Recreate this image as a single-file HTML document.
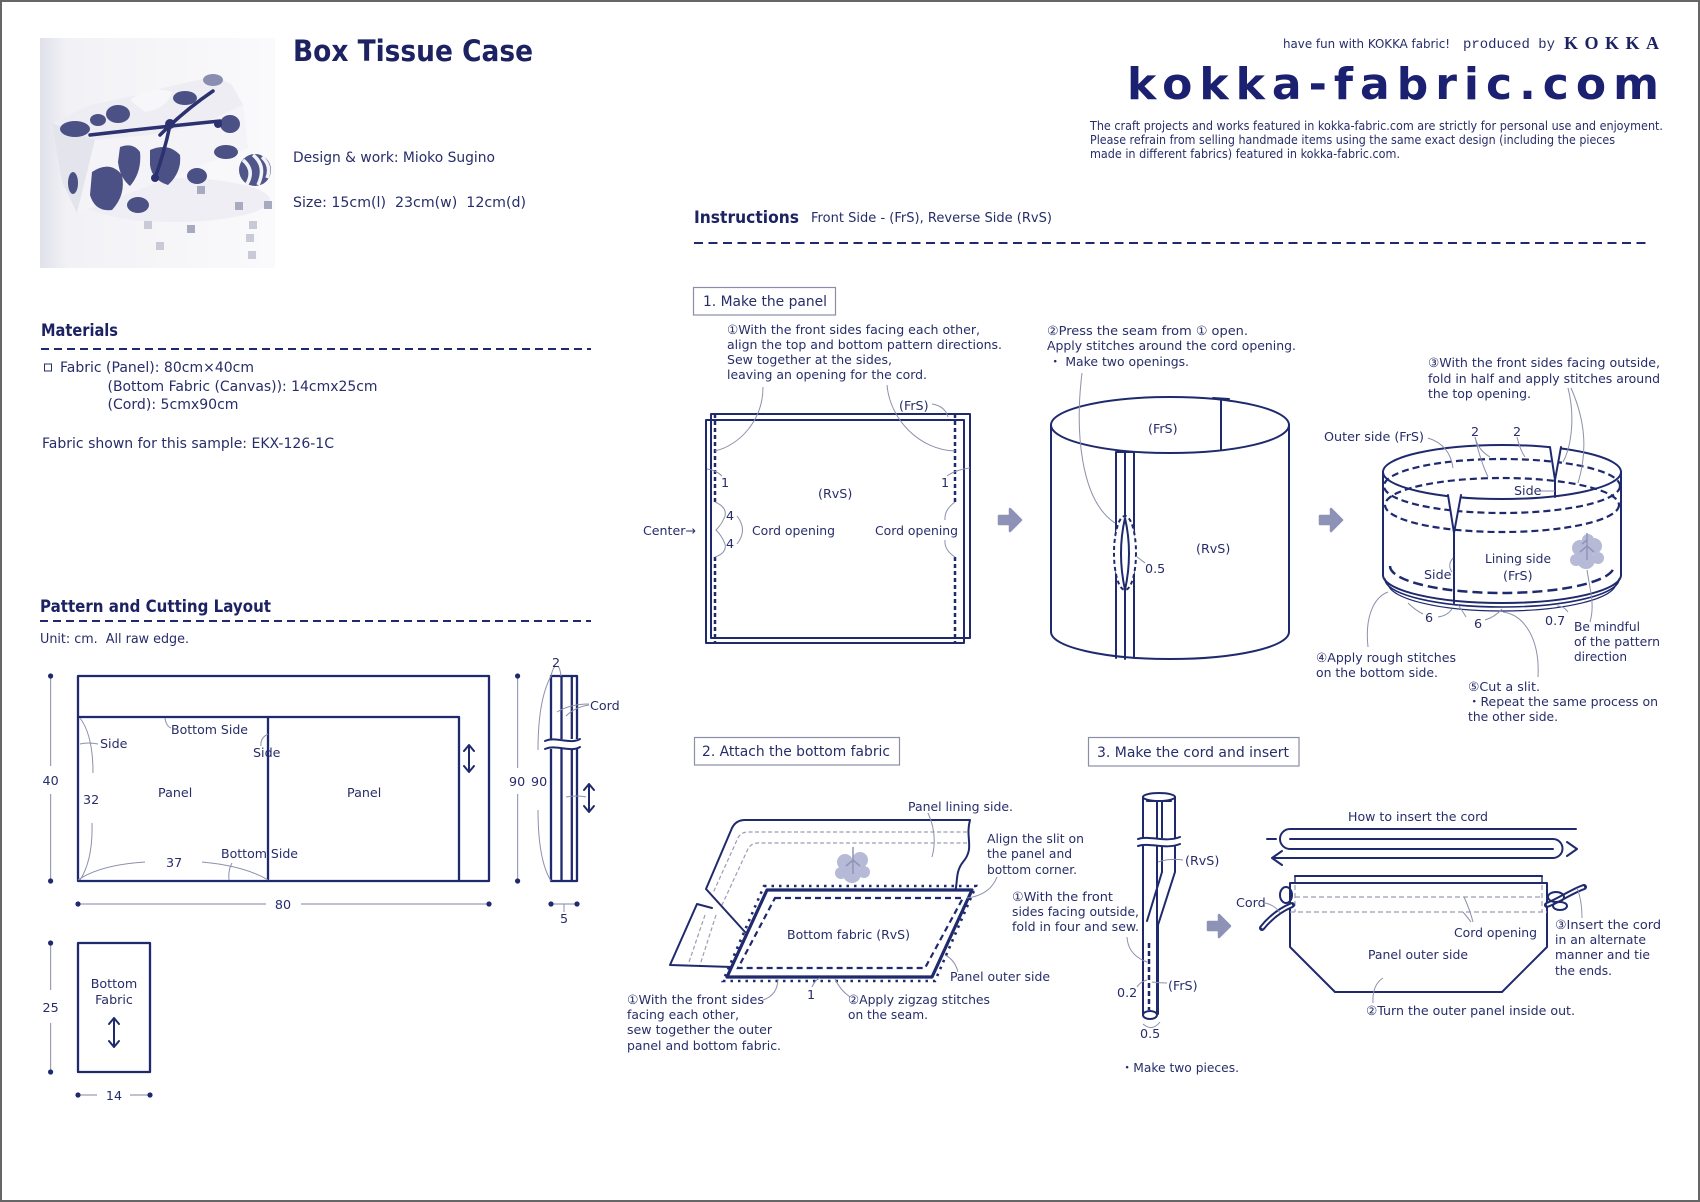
<!DOCTYPE html>
<html><head><meta charset="utf-8"><title>Box Tissue Case</title>
<style>
html,body{margin:0;padding:0;background:#fff;width:1700px;height:1202px;overflow:hidden}
svg{display:block}
text{font-family:"DejaVu Sans","Noto Sans CJK JP",sans-serif;fill:#272d69;font-size:12.7px}
.b{font-weight:bold;fill:#1c2262}
.ln{stroke:#1f2a6e;stroke-width:2;fill:none;stroke-linejoin:round;stroke-linecap:round}
.gl{stroke:#8c90ab;stroke-width:1;fill:none}
.dm{stroke:#9b9eb6;stroke-width:1.2;fill:none}
.ga{fill:#8e92b6;stroke:#8e92b6;stroke-width:2.5;stroke-linejoin:round}
.dot{fill:#1f2a6e}
.bx{fill:none;stroke:#8b8ea6;stroke-width:1.2}
</style></head><body>
<svg width="1700" height="1202" viewBox="0 0 1700 1202" xmlns="http://www.w3.org/2000/svg">
<defs>
<linearGradient id="pg" x1="0" y1="0" x2="1" y2="0">
<stop offset="0" stop-color="#e0e1ea"/><stop offset="0.12" stop-color="#f2f2f6"/><stop offset="1" stop-color="#fafafc"/>
</linearGradient>
<clipPath id="pc"><rect x="40" y="38" width="235" height="230"/></clipPath>
</defs>
<rect x="1" y="1" width="1698" height="1200" fill="#fff" stroke="#666" stroke-width="2"/>

<!-- PHOTO -->
<g clip-path="url(#pc)">
<rect x="40" y="38" width="235" height="230" fill="url(#pg)"/>
<ellipse cx="175" cy="200" rx="95" ry="22" fill="#eeeef4"/>
<!-- left face -->
<path d="M52 123 L95 140 L77 213 L62 182 Z" fill="#e3e4ec"/>
<!-- top face -->
<path d="M52 123 L90 105 L137 95 L175 85 L217 76 L232 85 L243 105 L200 125 L150 135 L95 140 Z" fill="#ededf3"/>
<path d="M130 100 Q150 85 172 92 Q168 108 145 112 Z" fill="#f7f7fa"/>
<!-- front face -->
<path d="M95 140 L150 135 L200 125 L243 105 L248 148 L77 213 Z" fill="#f4f4f8"/>
<g fill="#4b5085">
<path d="M92 172 Q110 160 122 175 Q126 195 112 210 Q95 212 90 195 Z"/>
<path d="M120 147 Q133 142 140 152 Q142 172 130 186 Q120 178 118 162 Z"/>
<path d="M150 150 Q168 142 180 155 Q182 172 168 185 Q152 180 150 165 Z"/>
<ellipse cx="138" cy="205" rx="11" ry="8"/>
<ellipse cx="197" cy="176" rx="10" ry="8"/>
<ellipse cx="226" cy="152" rx="12" ry="7"/>
<ellipse cx="73" cy="183" rx="5" ry="11"/>
<ellipse cx="75" cy="129" rx="15" ry="8"/>
<ellipse cx="118" cy="114" rx="12" ry="9"/>
<ellipse cx="185" cy="98" rx="12" ry="7"/>
<ellipse cx="230" cy="124" rx="10" ry="9"/>
<ellipse cx="98" cy="120" rx="8" ry="6"/>
</g>
<g stroke="#2c3170" stroke-width="3.5" fill="none" stroke-linecap="round">
<path d="M90 135 Q150 128 220 121"/>
<path d="M160 135 Q185 110 213 91"/>
<path d="M170 125 Q165 150 155 178"/>
</g>
<circle cx="170" cy="124" r="5" fill="#2c3170"/>
<circle cx="155" cy="178" r="4" fill="#2c3170"/>
<circle cx="218" cy="124" r="4" fill="#2c3170"/>
<ellipse cx="213" cy="80" rx="10" ry="6" fill="#8a8db0"/>
<circle cx="255" cy="170" r="16" fill="#50558a"/>
<path d="M243 160 Q255 170 247 184 M253 155 Q267 166 258 185 M262 157 Q272 166 267 178" stroke="#f2f2f7" stroke-width="3.5" fill="none"/>
<g fill="#a8aabf">
<rect x="197" y="186" width="8" height="8"/><rect x="235" y="202" width="8" height="8"/>
<rect x="264" y="201" width="8" height="8"/><rect x="187" y="225" width="8" height="8"/>
</g>
<g fill="#c9cad8">
<rect x="144" y="221" width="8" height="8"/><rect x="156" y="242" width="8" height="8"/>
<rect x="249" y="221" width="8" height="8"/><rect x="246" y="234" width="8" height="8"/>
<rect x="248" y="251" width="8" height="8"/>
</g>
</g>

<!-- HEADER TEXT -->
<text x="293" y="61" class="b" style="font-size:29px" textLength="240" lengthAdjust="spacingAndGlyphs">Box Tissue Case</text>
<text x="293" y="162" style="font-size:14px" textLength="202" lengthAdjust="spacingAndGlyphs">Design &amp; work: Mioko Sugino</text>
<text x="293" y="207" style="font-size:14px" textLength="233" lengthAdjust="spacingAndGlyphs">Size: 15cm(l)&#160; 23cm(w)&#160; 12cm(d)</text>

<text x="1283" y="48" style="font-size:12px" textLength="167" lengthAdjust="spacingAndGlyphs">have fun with KOKKA fabric!</text>
<text x="1463" y="48" style="font-family:'Liberation Mono',monospace;font-size:14px" textLength="92" lengthAdjust="spacingAndGlyphs">produced by</text>
<text x="1564" y="49" style="font-family:'Liberation Serif',serif;font-weight:bold;font-size:18px;fill:#1c2262" textLength="95" lengthAdjust="spacing">KOKKA</text>
<text x="1127" y="99" style="font-weight:bold;font-size:44px;fill:#1b2070" textLength="532" lengthAdjust="spacing">kokka-fabric.com</text>
<text x="1090" y="130" style="font-size:12px" textLength="573" lengthAdjust="spacingAndGlyphs">The craft projects and works featured in kokka-fabric.com are strictly for personal use and enjoyment.</text>
<text x="1090" y="144" style="font-size:12px" textLength="525" lengthAdjust="spacingAndGlyphs">Please refrain from selling handmade items using the same exact design (including the pieces</text>
<text x="1090" y="158" style="font-size:12px" textLength="310" lengthAdjust="spacingAndGlyphs">made in different fabrics) featured in kokka-fabric.com.</text>

<text x="694" y="223" class="b" style="font-size:17px" textLength="105" lengthAdjust="spacingAndGlyphs">Instructions</text>
<text x="811" y="222" style="font-size:13px" textLength="241" lengthAdjust="spacingAndGlyphs">Front Side - (FrS), Reverse Side (RvS)</text>
<path d="M694 243 H1646" stroke="#1f2a6e" stroke-width="2" stroke-dasharray="9 5.5"/>

<!-- MATERIALS -->
<text x="41" y="336" class="b" style="font-size:16.5px" textLength="77" lengthAdjust="spacingAndGlyphs">Materials</text>
<path d="M41 349 H591" stroke="#1f2a6e" stroke-width="2" stroke-dasharray="8 5"/>
<rect x="44.5" y="364" width="7" height="7" fill="none" stroke="#272d69" stroke-width="1"/>
<text x="60" y="372" style="font-size:14px" textLength="194" lengthAdjust="spacingAndGlyphs">Fabric (Panel): 80cm×40cm</text>
<text x="107.5" y="391" style="font-size:14px" textLength="270" lengthAdjust="spacingAndGlyphs">(Bottom Fabric (Canvas)): 14cmx25cm</text>
<text x="107.5" y="409" style="font-size:14px" textLength="131" lengthAdjust="spacingAndGlyphs">(Cord): 5cmx90cm</text>
<text x="42" y="448" style="font-size:14px" textLength="292" lengthAdjust="spacingAndGlyphs">Fabric shown for this sample: EKX-126-1C</text>

<text x="40" y="612" class="b" style="font-size:16.5px" textLength="231" lengthAdjust="spacingAndGlyphs">Pattern and Cutting Layout</text>
<path d="M40 621 H591" stroke="#1f2a6e" stroke-width="2" stroke-dasharray="8 5"/>
<text x="40" y="643" style="font-size:13px" textLength="149" lengthAdjust="spacingAndGlyphs">Unit: cm.&#160; All raw edge.</text>

<!-- PATTERN LAYOUT -->
<g class="ln" style="stroke-width:2.3">
<rect x="78" y="676" width="411" height="205"/>
<path d="M78 717 H459 V881 M268 717 V881"/>
<rect x="78" y="943" width="72" height="129"/>
<rect x="551" y="676" width="26" height="205"/>
<path d="M561.5 676 V881 M571.8 676 V881"/>
</g>
<rect x="544" y="739" width="40" height="10" fill="#fff"/>
<path class="ln" d="M545 741 C556 736 570 745 580 739 M545 749 C556 744 570 753 580 747"/>
<g class="ln">
<path d="M469 745 V772 M464 751 L469 745 L474 751 M464 766 L469 772 L474 766"/>
<path d="M589 784 V812 M584 790 L589 784 L594 790 M584 806 L589 812 L594 806"/>
<path d="M114 1018 V1047 M109 1024 L114 1018 L119 1024 M109 1041 L114 1047 L119 1041"/>
</g>
<path class="dm" d="M50.6 676 V766 M50.6 794 V881 M78 904 H266 M301 904 H489 M517.6 676 V768 M517.6 794 V881 M551 904 H577 M50.6 943 V990 M50.6 1023 V1072 M78 1095 H97 M130 1095 H150"/>
<g class="dot">
<circle cx="50.6" cy="676" r="2.6"/><circle cx="50.6" cy="881" r="2.6"/>
<circle cx="78" cy="904" r="2.6"/><circle cx="489" cy="904" r="2.6"/>
<circle cx="517.6" cy="676" r="2.6"/><circle cx="517.6" cy="881" r="2.6"/>
<circle cx="551" cy="904" r="2.6"/><circle cx="577" cy="904" r="2.6"/>
<circle cx="50.6" cy="943" r="2.6"/><circle cx="50.6" cy="1072" r="2.6"/>
<circle cx="78" cy="1095" r="2.6"/><circle cx="150" cy="1095" r="2.6"/>
</g>
<path class="gl" d="M80 744 Q88 742 98 744 M165 718 Q166 726 171 728 M268 734 Q260 738 261 746 M80 718 Q93 735 93 773 M92 823 Q93 860 80 880 M78 880 Q100 865 145 862 M202 862 Q245 866 268 880 M229 880 Q228 870 232 863 M551 676 Q538 700 538 750 M538 810 Q538 860 551 881 M551 676 Q553 667 556 666 M561 676 Q560 668 558 666 M557 712 Q570 704 589 704 M566 716 Q575 707 589 705 M566 797 Q578 795 586 797 M564 904 V912"/>
<text x="100" y="748">Side</text>
<text x="171" y="734" textLength="77" lengthAdjust="spacingAndGlyphs">Bottom Side</text>
<text x="253" y="757">Side</text>
<text x="158" y="797">Panel</text>
<text x="347" y="797">Panel</text>
<text x="83" y="804">32</text>
<text x="166" y="867">37</text>
<text x="221" y="858" textLength="77" lengthAdjust="spacingAndGlyphs">Bottom Side</text>
<text x="50.6" y="785" text-anchor="middle">40</text>
<text x="283" y="909" text-anchor="middle">80</text>
<text x="509" y="786">90</text>
<text x="531" y="786">90</text>
<text x="556" y="667" text-anchor="middle">2</text>
<text x="590" y="710">Cord</text>
<text x="564" y="923" text-anchor="middle">5</text>
<text x="50.6" y="1012" text-anchor="middle">25</text>
<text x="114" y="988" text-anchor="middle">Bottom</text>
<text x="114" y="1004" text-anchor="middle">Fabric</text>
<text x="114" y="1100" text-anchor="middle">14</text>

<!-- STEP 1 -->
<rect class="bx" x="693.5" y="287.5" width="142" height="27.5"/>
<text x="703" y="306" style="font-size:14px" textLength="124" lengthAdjust="spacingAndGlyphs">1. Make the panel</text>
<text x="727" y="334" textLength="253" lengthAdjust="spacingAndGlyphs">①With the front sides facing each other,</text>
<text x="727" y="349" textLength="275" lengthAdjust="spacingAndGlyphs">align the top and bottom pattern directions.</text>
<text x="727" y="364" textLength="165" lengthAdjust="spacingAndGlyphs">Sew together at the sides,</text>
<text x="727" y="379" textLength="200" lengthAdjust="spacingAndGlyphs">leaving an opening for the cord.</text>

<rect class="ln" x="711" y="414" width="259" height="224" fill="#fff"/>
<rect class="ln" x="706" y="420" width="258" height="223" fill="#fff"/>
<path d="M715 414 V502 M715 557 V643 M955 414 V502 M955 557 V643" stroke="#1f2a6e" stroke-width="2.5" stroke-dasharray="4 3" fill="none"/>
<path class="gl" d="M763 387 C763 420 740 445 715 451 M887 385 C890 420 920 450 955 451 M932 404 Q945 406 948 417 M707 469 Q716 470 722 476 M970 468 Q955 470 947 476 M715 502 Q727 507 725 516 Q722 524 716 530 Q722 536 725 544 Q727 553 715 557 M737 516 Q748 530 737 544 M955 502 Q944 510 945 520 M945 540 Q944 550 955 557"/>
<text x="899" y="410">(FrS)</text>
<text x="721" y="487">1</text>
<text x="941" y="487">1</text>
<text x="818" y="498">(RvS)</text>
<text x="726" y="520">4</text>
<text x="726" y="548">4</text>
<text x="643" y="535" textLength="53" lengthAdjust="spacingAndGlyphs">Center→</text>
<text x="752" y="535" textLength="83" lengthAdjust="spacingAndGlyphs">Cord opening</text>
<text x="875" y="535" textLength="83" lengthAdjust="spacingAndGlyphs">Cord opening</text>

<path class="ga" d="M999 516 H1010 V509 L1021 520 L1010 531 V524 H999 Z"/>

<text x="1047" y="335" textLength="201" lengthAdjust="spacingAndGlyphs">②Press the seam from ① open.</text>
<text x="1047" y="350" textLength="249" lengthAdjust="spacingAndGlyphs">Apply stitches around the cord opening.</text>
<text x="1049" y="366" textLength="140" lengthAdjust="spacingAndGlyphs">・ Make two openings.</text>

<ellipse class="ln" cx="1170" cy="425" rx="119" ry="28" fill="#fff"/>
<path class="ln" d="M1051 425 V632 A119 27 0 0 0 1289 632 V425"/>
<path class="ln" d="M1221 400 V450 M1213 398 L1229 399"/>
<path class="ln" d="M1116 452 V658 M1134 452 V658 M1125 452 V659 M1116 452 H1134"/>
<ellipse cx="1125" cy="553" rx="11" ry="37" fill="#fff" stroke="#1f2a6e" stroke-width="2" stroke-dasharray="4 3"/>
<path class="ln" d="M1125 518 Q1133 553 1125 590 Q1117 553 1125 518 Z"/>
<path class="gl" d="M1082 373 C1075 430 1080 500 1115 523 M1136 556 L1145 563"/>
<text x="1148" y="433">(FrS)</text>
<text x="1196" y="553">(RvS)</text>
<text x="1145" y="573">0.5</text>

<path class="ga" d="M1320 516 H1331 V509 L1342 520 L1331 531 V524 H1320 Z"/>

<text x="1428" y="367" textLength="232" lengthAdjust="spacingAndGlyphs">③With the front sides facing outside,</text>
<text x="1428" y="383" textLength="232" lengthAdjust="spacingAndGlyphs">fold in half and apply stitches around</text>
<text x="1428" y="398" textLength="103" lengthAdjust="spacingAndGlyphs">the top opening.</text>

<ellipse class="ln" cx="1502" cy="472" rx="119" ry="27" fill="#fff"/>
<path class="ln" d="M1383 472 V575 M1621 472 V575"/>
<ellipse cx="1502" cy="486" rx="118" ry="27" fill="none" stroke="#1f2a6e" stroke-width="2.2" stroke-dasharray="7 4"/>
<ellipse cx="1502" cy="505" rx="117" ry="27" fill="none" stroke="#1f2a6e" stroke-width="2.2" stroke-dasharray="7 4"/>
<path class="ln" d="M1383 575 A119 28 0 0 0 1621 575"/>
<path class="ln" d="M1385 579 A117 28 0 0 0 1619 579" style="stroke-width:1.6"/>
<path d="M1388 583 A114 28 0 0 0 1616 583" stroke="#1f2a6e" stroke-width="1.2" fill="none"/>
<path d="M1390 566 A112 27 0 0 0 1614 566" stroke="#1f2a6e" stroke-width="2.5" fill="none" stroke-dasharray="10 5"/>
<path d="M1448 494 L1454 533 L1461 494 Z" fill="#fff"/>
<path class="ln" d="M1448 495 L1454 533 L1461 495 M1454 533 V603"/>
<path d="M1550 446 L1555 480 L1561 446 Z" fill="#fff"/>
<path class="ln" d="M1550 447 L1555 480 L1561 447 M1555 480 V497"/>
<g fill="#b7bad6">
<circle cx="1580" cy="548" r="8"/><circle cx="1594" cy="546" r="8"/><circle cx="1586" cy="560" r="9"/>
<circle cx="1576" cy="560" r="6"/><circle cx="1598" cy="558" r="6"/><circle cx="1588" cy="540" r="6"/>
</g>
<path d="M1587 533 V560 M1587 546 L1580 552 M1587 546 L1594 552 M1587 540 L1582 544" stroke="#9094b9" stroke-width="1.5" fill="none"/>
<path class="gl" d="M1428 438 Q1450 445 1453 468 M1475 437 Q1478 450 1490 457 M1475 437 Q1480 460 1488 477 M1517 437 Q1520 450 1525 457 M1571 388 C1585 420 1588 450 1578 483 M1568 388 C1575 415 1572 445 1563 462 M1453 558 Q1447 565 1452 572 M1540 491 H1555 M1438 617 Q1447 616 1452 609 M1423 614 Q1415 610 1408 603 M1466 617 Q1462 610 1458 605 M1485 620 Q1495 617 1502 609 M1568 612 Q1564 606 1557 606 M1587 570 C1590 590 1595 605 1590 622 M1368 647 C1365 620 1372 598 1388 592 M1538 677 C1540 640 1525 615 1503 612"/>
<text x="1324" y="441" textLength="100" lengthAdjust="spacingAndGlyphs">Outer side (FrS)</text>
<text x="1471" y="436">2</text>
<text x="1513" y="436">2</text>
<text x="1514" y="495">Side</text>
<text x="1485" y="563" textLength="66" lengthAdjust="spacingAndGlyphs">Lining side</text>
<text x="1503" y="580">(FrS)</text>
<text x="1424" y="579">Side</text>
<text x="1425" y="622">6</text>
<text x="1474" y="628">6</text>
<text x="1545" y="625">0.7</text>
<text x="1574" y="631" textLength="66" lengthAdjust="spacingAndGlyphs">Be mindful</text>
<text x="1574" y="646" textLength="86" lengthAdjust="spacingAndGlyphs">of the pattern</text>
<text x="1574" y="661" textLength="53" lengthAdjust="spacingAndGlyphs">direction</text>
<text x="1316" y="662" textLength="140" lengthAdjust="spacingAndGlyphs">④Apply rough stitches</text>
<text x="1316" y="677" textLength="122" lengthAdjust="spacingAndGlyphs">on the bottom side.</text>
<text x="1468" y="691" textLength="72" lengthAdjust="spacingAndGlyphs">⑤Cut a slit.</text>
<text x="1468" y="706" textLength="190" lengthAdjust="spacingAndGlyphs">・Repeat the same process on</text>
<text x="1468" y="721" textLength="90" lengthAdjust="spacingAndGlyphs">the other side.</text>

<!-- STEP 2 -->
<rect class="bx" x="694.5" y="737.5" width="205" height="27.5"/>
<text x="702" y="756" style="font-size:14px" textLength="188" lengthAdjust="spacingAndGlyphs">2. Attach the bottom fabric</text>

<path class="ln" d="M970 820 H745 Q736 820 732 828 L706 889 L745 932 M970 820 C965 838 975 848 963 862 C955 872 958 882 955 892 M697 904 L670 965 L732 967 L738 958 M697 904 L712 908"/>
<path d="M967 832 H748 Q740 832 737 840 L713 893 M705 915 L688 965 M967 843 H758 Q750 843 747 851 L722 905 M716 915 L700 965" stroke="#9a9db5" stroke-width="1.2" fill="none" stroke-dasharray="4 2.5"/>
<g fill="#b7bad6">
<circle cx="845" cy="862" r="8"/><circle cx="860" cy="860" r="8"/><circle cx="852" cy="874" r="9"/>
<circle cx="841" cy="873" r="6"/><circle cx="864" cy="872" r="6"/>
</g>
<path d="M853 847 V874 M853 860 L846 866 M853 860 L860 866" stroke="#9094b9" stroke-width="1.5" fill="none"/>
<path d="M767 890 L972 890 L932 977 L727 977 Z" fill="#fff" stroke="#1f2a6e" stroke-width="3.2" stroke-linejoin="round"/>
<path d="M764 886 L976 886 L935 981 L723 981 Z" fill="none" stroke="#1f2a6e" stroke-width="2.6" stroke-dasharray="2.5 5"/>
<path d="M775 898 L963 898 L925 968 L738 968 Z" fill="none" stroke="#1f2a6e" stroke-width="2.2" stroke-dasharray="6 4"/>
<path class="gl" d="M928 813 Q938 835 932 857 M997 877 Q990 895 967 898 M958 972 Q955 960 945 955 M812 987 Q815 980 820 978 M763 1000 Q778 995 778 978 M850 997 Q840 990 835 979"/>
<text x="908" y="811" textLength="105" lengthAdjust="spacingAndGlyphs">Panel lining side.</text>
<text x="987" y="843" textLength="97" lengthAdjust="spacingAndGlyphs">Align the slit on</text>
<text x="987" y="858" textLength="85" lengthAdjust="spacingAndGlyphs">the panel and</text>
<text x="987" y="874" textLength="90" lengthAdjust="spacingAndGlyphs">bottom corner.</text>
<text x="787" y="939" textLength="123" lengthAdjust="spacingAndGlyphs">Bottom fabric (RvS)</text>
<text x="950" y="981" textLength="100" lengthAdjust="spacingAndGlyphs">Panel outer side</text>
<text x="807" y="999">1</text>
<text x="627" y="1004" textLength="137" lengthAdjust="spacingAndGlyphs">①With the front sides</text>
<text x="627" y="1019" textLength="112" lengthAdjust="spacingAndGlyphs">facing each other,</text>
<text x="627" y="1034" textLength="145" lengthAdjust="spacingAndGlyphs">sew together the outer</text>
<text x="627" y="1050" textLength="154" lengthAdjust="spacingAndGlyphs">panel and bottom fabric.</text>
<text x="848" y="1004" textLength="142" lengthAdjust="spacingAndGlyphs">②Apply zigzag stitches</text>
<text x="848" y="1019" textLength="80" lengthAdjust="spacingAndGlyphs">on the seam.</text>

<!-- STEP 3 -->
<rect class="bx" x="1088.5" y="737.5" width="210.5" height="28.5"/>
<text x="1097" y="757" style="font-size:14px" textLength="192" lengthAdjust="spacingAndGlyphs">3. Make the cord and insert</text>

<ellipse class="ln" cx="1159" cy="797" rx="16" ry="4"/>
<path class="ln" d="M1143 797 V1014 M1175 797 V872 L1158 925 V1014 M1162 801 V872 L1147 921 M1157 801 V1014 M1147 801 H1171"/>
<ellipse class="ln" cx="1150" cy="1015" rx="7" ry="4" fill="#fff"/>
<rect x="1137" y="838" width="44" height="8" fill="#fff"/>
<path class="ln" d="M1138 839 C1150 835 1165 843 1180 837 M1138 846 C1150 842 1165 850 1180 844"/>
<path d="M1149 943 V1010" stroke="#1f2a6e" stroke-width="2.5" stroke-dasharray="5 3"/>
<path class="gl" d="M1158 862 Q1170 858 1183 860 M1127 937 Q1128 955 1147 962 M1152 982 Q1160 983 1167 983 M1137 987 Q1140 982 1147 980 M1143 1024 Q1152 1032 1160 1022"/>
<text x="1185" y="865">(RvS)</text>
<text x="1012" y="901" textLength="101" lengthAdjust="spacingAndGlyphs">①With the front</text>
<text x="1012" y="916" textLength="127" lengthAdjust="spacingAndGlyphs">sides facing outside,</text>
<text x="1012" y="931" textLength="127" lengthAdjust="spacingAndGlyphs">fold in four and sew.</text>
<text x="1168" y="990">(FrS)</text>
<text x="1117" y="997">0.2</text>
<text x="1140" y="1038">0.5</text>
<text x="1121" y="1072" textLength="118" lengthAdjust="spacingAndGlyphs">・Make two pieces.</text>

<path class="ga" d="M1208 922 H1219 V915 L1230 926 L1219 937 V930 H1208 Z"/>

<text x="1348" y="821" textLength="140" lengthAdjust="spacingAndGlyphs">How to insert the cord</text>
<path class="ln" d="M1576 829 H1290 A10 10 0 0 0 1290 849 H1553 M1290 839 H1553 A9.5 9.5 0 0 1 1553 858 H1272 M1282 851 L1272 858 L1282 865 M1567 842 L1577 849 L1567 856 M1267 839 H1276"/>

<rect class="ln" x="1295" y="876" width="247" height="7" fill="#fff"/>
<path class="ln" d="M1290 883 H1547 V947 L1502 992 H1335 L1290 947 Z" fill="#fff"/>
<path d="M1295 897 H1542 M1290 912 H1547 M1295 877 V912 M1542 877 V912" stroke="#9a9db5" stroke-width="1.2" fill="none" stroke-dasharray="5 3"/>
<path d="M1292 905 C1280 910 1270 918 1262 928" stroke="#1f2a6e" stroke-width="6" fill="none" stroke-linecap="round"/>
<path d="M1292 905 C1280 910 1270 918 1262 928" stroke="#fff" stroke-width="2" fill="none"/>
<ellipse cx="1286" cy="895" rx="6" ry="8" fill="none" stroke="#1f2a6e" stroke-width="2"/>
<path d="M1547 905 C1560 900 1570 892 1584 887" stroke="#1f2a6e" stroke-width="6" fill="none" stroke-linecap="round"/>
<path d="M1547 905 C1560 900 1570 892 1584 887" stroke="#fff" stroke-width="2" fill="none"/>
<ellipse cx="1556" cy="897" rx="8" ry="5" fill="none" stroke="#1f2a6e" stroke-width="2"/>
<ellipse cx="1560" cy="906" rx="7" ry="4" fill="none" stroke="#1f2a6e" stroke-width="2"/>
<path class="gl" d="M1265 903 Q1275 905 1280 913 M1473 922 Q1470 910 1464 897 M1471 922 Q1468 918 1463 912 M1373 1003 Q1372 985 1383 978 M1582 918 Q1582 900 1577 888"/>
<text x="1236" y="907">Cord</text>
<text x="1454" y="937" textLength="83" lengthAdjust="spacingAndGlyphs">Cord opening</text>
<text x="1368" y="959" textLength="100" lengthAdjust="spacingAndGlyphs">Panel outer side</text>
<text x="1366" y="1015" textLength="209" lengthAdjust="spacingAndGlyphs">②Turn the outer panel inside out.</text>
<text x="1555" y="929" textLength="106" lengthAdjust="spacingAndGlyphs">③Insert the cord</text>
<text x="1555" y="944" textLength="91" lengthAdjust="spacingAndGlyphs">in an alternate</text>
<text x="1555" y="959" textLength="95" lengthAdjust="spacingAndGlyphs">manner and tie</text>
<text x="1555" y="975" textLength="57" lengthAdjust="spacingAndGlyphs">the ends.</text>
</svg>
</body></html>
